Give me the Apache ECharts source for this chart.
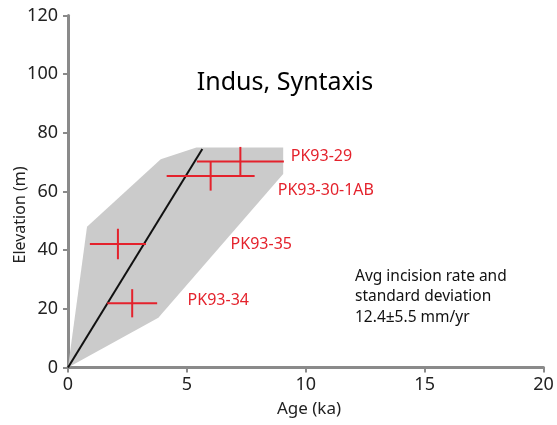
<!DOCTYPE html>
<html lang="en">
<head>
    <meta charset="UTF-8">
    <title>Indus, Syntaxis</title>
    <script src="https://cdn.jsdelivr.net/npm/echarts@6/dist/echarts.min.js"></script>
</head>
<body style="margin:0;background:#fff">
<div id="chart_main" style="width:557px;height:425px"></div>
<script>
    // samples: age (ka), elevation (m) and their errors
    var samples = ['PK93-34', 'PK93-35', 'PK93-30-1AB', 'PK93-29'];
    var ages = [2.7, 2.1, 6.0, 7.25];
    var ageErr = [1.05, 1.18, 1.85, 1.83];
    var elevs = [21.9, 42.1, 65.3, 70.2];
    var elevErr = [4.8, 5.2, 5.0, 5.0];
    // where each sample label sits
    var labelAge = [5.03, 6.84, 8.82, 9.37];
    var labelElev = [23.0, 41.8, 60.5, 72.1];
    // grey envelope
    var shadeAge = [0, 0.8, 3.9, 5.4, 9.05, 9.05, 3.8, 0];
    var shadeElev = [0, 48, 71, 75, 75, 66, 17, 0];
    // mean incision line
    var fitAge = [0, 5.65];
    var fitElev = [0, 74.5];

    var xTicks = [0, 5, 10, 15, 20];
    var yTicks = [0, 20, 40, 60, 80, 100, 120];

    var fnt = '"Noto Sans", "Open Sans", sans-serif';
    var red = '#e4222c';

    var shadePts = shadeAge.map(function (a, i) { return [a, shadeElev[i]]; });

    var option = {
        animation: false,
        grid: { left: 68, right: 13.5, top: 15.5, bottom: 57.5, outerBoundsMode: 'none', containLabel: false },
        xAxis: {
            type: 'value', min: xTicks[0], max: xTicks[xTicks.length - 1], interval: 5,
            axisLine: { lineStyle: { color: '#8a8a8a', width: 3 } },
            axisTick: { length: 5, lineStyle: { color: '#8a8a8a', width: 2 } },
            axisLabel: { fontFamily: fnt, fontSize: 18, color: '#222', margin: 8 },
            splitLine: { show: false }
        },
        yAxis: {
            type: 'value', min: yTicks[0], max: yTicks[yTicks.length - 1], interval: 20,
            axisLine: { show: true, lineStyle: { color: '#8a8a8a', width: 3 } },
            axisTick: { show: true, length: 5, lineStyle: { color: '#8a8a8a', width: 2 } },
            axisLabel: { fontFamily: fnt, fontSize: 18, color: '#222', margin: 10 },
            splitLine: { show: false }
        },
        graphic: [
            { type: 'text', x: 285, y: 83, z: 10,
              style: { text: 'Indus, Syntaxis', font: '25px ' + fnt, fill: '#000',
                       textAlign: 'center', textVerticalAlign: 'middle' } },
            { type: 'text', left: 355, top: 266, z: 10,
              style: { text: 'Avg incision rate and\nstandard deviation\n12.4\u00b15.5 mm/yr',
                       font: '15.5px ' + fnt, fill: '#111', lineHeight: 20.5 } },
            { type: 'text', x: 309, y: 409, z: 10,
              style: { text: 'Age (ka)', font: '17px ' + fnt, fill: '#222',
                       textAlign: 'center', textVerticalAlign: 'middle' } },
            { type: 'text', x: 20, y: 215, rotation: Math.PI / 2, z: 10,
              style: { text: 'Elevation (m)', font: '16px ' + fnt, fill: '#222',
                       textAlign: 'center', textVerticalAlign: 'middle' } }
        ],
        series: [
            {
                type: 'custom', z: 1, silent: true,
                data: [0],
                renderItem: function (params, api) {
                    var pts = shadePts.map(function (p) { return api.coord(p); });
                    return { type: 'polygon', shape: { points: pts }, style: { fill: '#cbcbcb' } };
                }
            },
            {
                type: 'line', z: 3, symbol: 'none',
                data: fitAge.map(function (a, i) { return [a, fitElev[i]]; }),
                lineStyle: { color: '#111', width: 2 }
            },
            {
                type: 'custom', z: 4,
                data: ages.map(function (a, i) { return [a, elevs[i], ageErr[i], elevErr[i]]; }),
                renderItem: function (params, api) {
                    var x = api.value(0), y = api.value(1), dx = api.value(2), dy = api.value(3);
                    var l = api.coord([x - dx, y]), r = api.coord([x + dx, y]);
                    var b = api.coord([x, y - dy]), t = api.coord([x, y + dy]);
                    return {
                        type: 'group', children: [
                            { type: 'line', shape: { x1: l[0], y1: l[1], x2: r[0], y2: r[1] },
                              style: { stroke: red, lineWidth: 2 } },
                            { type: 'line', shape: { x1: b[0], y1: b[1], x2: t[0], y2: t[1] },
                              style: { stroke: red, lineWidth: 2 } }
                        ]
                    };
                }
            },
            {
                type: 'custom', z: 5,
                data: labelAge.map(function (a, i) { return [a, labelElev[i], i]; }),
                renderItem: function (params, api) {
                    var p = api.coord([api.value(0), api.value(1)]);
                    return {
                        type: 'text', x: p[0], y: p[1],
                        style: { text: samples[api.value(2)], font: '16px ' + fnt, fill: red,
                                 textAlign: 'left', textVerticalAlign: 'middle' }
                    };
                }
            }
        ]
    };

    var chart_main = echarts.init(document.getElementById('chart_main'));
    chart_main.setOption(option);
</script>
</body>
</html>
